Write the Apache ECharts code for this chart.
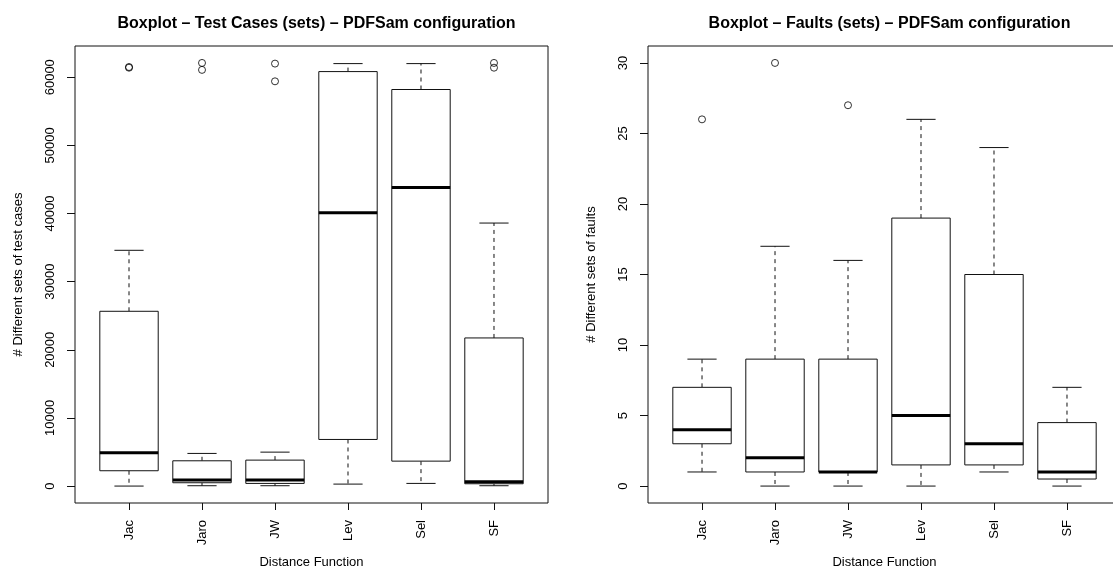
<!DOCTYPE html>
<html>
<head>
<meta charset="utf-8">
<script src="https://cdn.jsdelivr.net/npm/echarts@6/dist/echarts.min.js"></script>
<style>html,body{margin:0;padding:0;background:#fff;}#c{width:1113px;height:569px;}</style>
</head>
<body>
<div id="c"></div>
<script>
const categories = ['Jac', 'Jaro', 'JW', 'Lev', 'Sel', 'SF'];
// [lower whisker, Q1, median, Q3, upper whisker]
const testCaseStats = [
  [0, 2250, 4880, 25650, 34600],
  [50, 490, 880, 3710, 4790],
  [50, 390, 880, 3810, 4980],
  [290, 6840, 40120, 60830, 62000],
  [390, 3660, 43830, 58200, 62000],
  [50, 340, 630, 21740, 38600]
];
const testCaseOutliers = [[0, 61400], [0, 61500], [1, 62100], [1, 61080], [2, 62000], [2, 59400], [5, 62100], [5, 61400]];
const testCaseTicks = [0, 10000, 20000, 30000, 40000, 50000, 60000];

const faultStats = [
  [1, 3, 4, 7, 9],
  [0, 1, 2, 9, 17],
  [0, 1, 1, 9, 16],
  [0, 1.5, 5, 19, 26],
  [1, 1.5, 3, 15, 24],
  [0, 0.5, 1, 4.5, 7]
];
const faultOutliers = [[0, 26], [1, 30], [2, 27]];
const faultTicks = [0, 5, 10, 15, 20, 25, 30];

const FONT = "'Liberation Sans', Arial, Helvetica, sans-serif";
const catPos = categories.map((c, i) => i + 1);

function extent(stats, outs) {
  let lo = Infinity, hi = -Infinity;
  stats.forEach(s => { lo = Math.min(lo, s[0]); hi = Math.max(hi, s[4]); });
  outs.forEach(o => { lo = Math.min(lo, o[1]); hi = Math.max(hi, o[1]); });
  const r = hi - lo;
  return [lo - 0.04 * r, hi + 0.04 * r];
}

function renderBox(params, api) {
  const x = api.value(0);
  const pMin = api.coord([x, api.value(1)]);
  const pQ1 = api.coord([x, api.value(2)]);
  const pMed = api.coord([x, api.value(3)]);
  const pQ3 = api.coord([x, api.value(4)]);
  const pMax = api.coord([x, api.value(5)]);
  const hb = api.size([0.8, 0])[0] / 2;
  const hc = api.size([0.4, 0])[0] / 2;
  const cx = pMed[0];
  const solid = { stroke: '#111', lineWidth: 1, fill: null };
  const dashed = { stroke: '#111', lineWidth: 1, lineDash: [4, 4], fill: null };
  return {
    type: 'group',
    children: [
      { type: 'line', shape: { x1: cx, y1: pQ3[1], x2: cx, y2: pMax[1] }, style: dashed },
      { type: 'line', shape: { x1: cx, y1: pQ1[1], x2: cx, y2: pMin[1] }, style: dashed },
      { type: 'line', shape: { x1: cx - hc, y1: pMax[1], x2: cx + hc, y2: pMax[1] }, style: solid },
      { type: 'line', shape: { x1: cx - hc, y1: pMin[1], x2: cx + hc, y2: pMin[1] }, style: solid },
      { type: 'rect', shape: { x: cx - hb, y: pQ3[1], width: 2 * hb, height: pQ1[1] - pQ3[1] }, style: { stroke: '#111', lineWidth: 1, fill: '#fff' } },
      { type: 'line', shape: { x1: cx - hb, y1: pMed[1], x2: cx + hb, y2: pMed[1] }, style: { stroke: '#000', lineWidth: 3 } }
    ]
  };
}

function makeX(idx) {
  return {
    gridIndex: idx, type: 'value', min: 0.26, max: 6.74,
    name: 'Distance Function', nameLocation: 'middle', nameGap: 53, nameMoveOverlap: false,
    nameTextStyle: { fontFamily: FONT, fontSize: 13, color: '#000' },
    axisLine: { show: false, onZero: false },
    splitLine: { show: false },
    axisTick: { show: true, inside: false, length: 7, customValues: catPos, lineStyle: { color: '#111' } },
    axisLabel: { show: true, rotate: 90, margin: 17, customValues: catPos, fontFamily: FONT, fontSize: 13, color: '#000',
      formatter: v => categories[Math.round(v) - 1] }
  };
}
function makeY(idx, ext, ticks, name) {
  return {
    gridIndex: idx, type: 'value', min: ext[0], max: ext[1],
    name: name, nameLocation: 'middle', nameGap: 50, nameMoveOverlap: false,
    nameTextStyle: { fontFamily: FONT, fontSize: 13, color: '#000' },
    axisLine: { show: false, onZero: false },
    splitLine: { show: false },
    axisTick: { show: true, inside: false, length: 8, customValues: ticks, lineStyle: { color: '#111' } },
    axisLabel: { show: true, rotate: 90, margin: 18, customValues: ticks, fontFamily: FONT, fontSize: 13, color: '#000',
      formatter: v => String(Math.round(v)) }
  };
}

const ext1 = extent(testCaseStats, testCaseOutliers);
const ext2 = extent(faultStats, faultOutliers);

const chart = echarts.init(document.getElementById('c'), null, { renderer: 'canvas' });
chart.setOption({
  animation: false,
  backgroundColor: '#fff',
  title: [
    { text: 'Boxplot – Test Cases (sets) – PDFSam configuration', left: 311.5, top: 11, textAlign: 'center',
      textStyle: { fontFamily: FONT, fontSize: 16, fontWeight: 'bold', color: '#000' } },
    { text: 'Boxplot – Faults (sets) – PDFSam configuration', left: 884.5, top: 11, textAlign: 'center',
      textStyle: { fontFamily: FONT, fontSize: 16, fontWeight: 'bold', color: '#000' } }
  ],
  grid: [
    { left: 75, top: 46, width: 473, height: 457, show: true, borderColor: '#111', borderWidth: 1, backgroundColor: 'transparent', outerBoundsMode: 'none', containLabel: false },
    { left: 648, top: 46, width: 473, height: 457, show: true, borderColor: '#111', borderWidth: 1, backgroundColor: 'transparent', outerBoundsMode: 'none', containLabel: false }
  ],
  xAxis: [makeX(0), makeX(1)],
  yAxis: [
    makeY(0, ext1, testCaseTicks, '# Different sets of test cases'),
    makeY(1, ext2, faultTicks, '# Different sets of faults')
  ],
  series: [
    { type: 'custom', xAxisIndex: 0, yAxisIndex: 0, renderItem: renderBox, clip: false,
      encode: { x: 0, y: [1, 2, 3, 4, 5] },
      data: testCaseStats.map((s, i) => [catPos[i]].concat(s)) },
    { type: 'scatter', xAxisIndex: 0, yAxisIndex: 0, symbol: 'circle', symbolSize: 7,
      itemStyle: { color: 'rgba(0,0,0,0)', borderColor: '#000', borderWidth: 1 },
      data: testCaseOutliers.map(o => [catPos[o[0]], o[1]]) },
    { type: 'custom', xAxisIndex: 1, yAxisIndex: 1, renderItem: renderBox, clip: false,
      encode: { x: 0, y: [1, 2, 3, 4, 5] },
      data: faultStats.map((s, i) => [catPos[i]].concat(s)) },
    { type: 'scatter', xAxisIndex: 1, yAxisIndex: 1, symbol: 'circle', symbolSize: 7,
      itemStyle: { color: 'rgba(0,0,0,0)', borderColor: '#000', borderWidth: 1 },
      data: faultOutliers.map(o => [catPos[o[0]], o[1]]) }
  ]
});
</script>
</body>
</html>
